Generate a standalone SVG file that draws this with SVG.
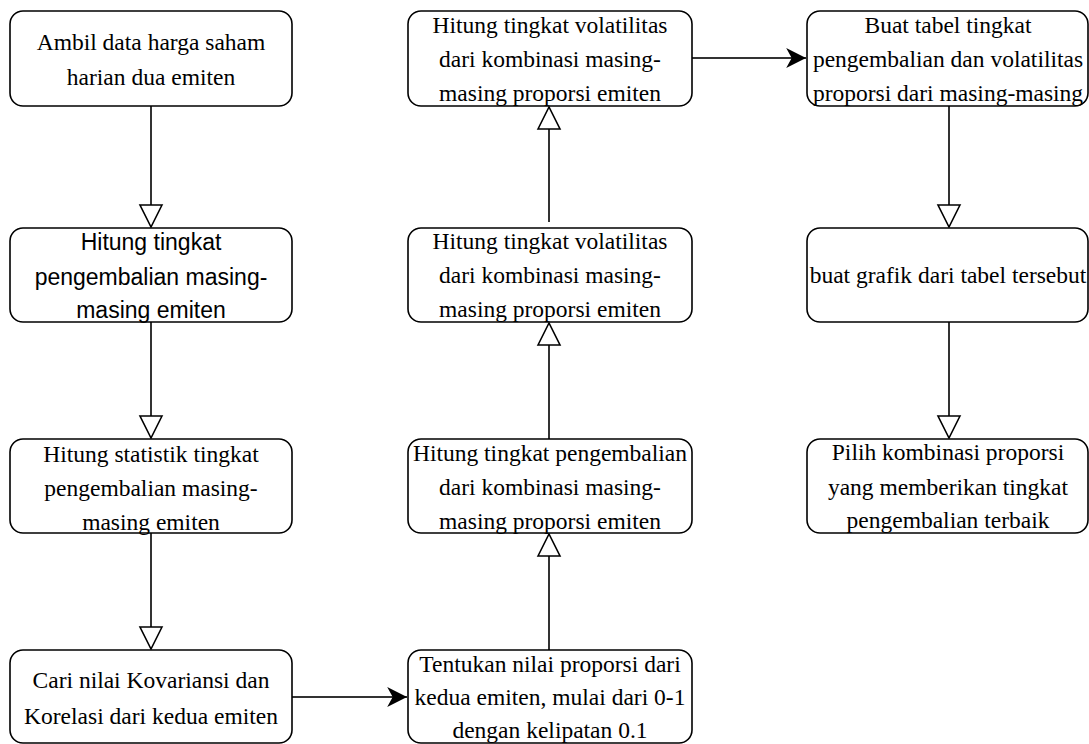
<svg xmlns="http://www.w3.org/2000/svg" width="1089" height="744" viewBox="0 0 1089 744">
  <style>
    .box { fill: #ffffff; stroke: #000000; stroke-width: 1.6; }
    .t { font-family: "Liberation Serif", "Times New Roman", serif; font-size: 23.5px; fill: #000000; text-anchor: middle; }
    .s { font-family: "Liberation Sans", Arial, sans-serif; font-size: 23px; fill: #000000; text-anchor: middle; }
    .c { fill: none; stroke: #333333; stroke-width: 2; }
  </style>
  <defs>
    <marker id="hollow" markerUnits="userSpaceOnUse" markerWidth="26" markerHeight="26" viewBox="-2 -2 26 26" refX="22" refY="11" orient="auto">
      <path d="M0,0 L22,11 L0,22 Z" fill="#ffffff" stroke="#000000" stroke-width="1.6"/>
    </marker>
    <marker id="block" markerUnits="userSpaceOnUse" markerWidth="22" markerHeight="22" viewBox="0 0 20 20" refX="18" refY="9" orient="auto">
      <path d="M0,0 L18,9 L0,18 L5,9 Z" fill="#000000"/>
    </marker>
  </defs>
  <rect width="1089" height="744" fill="#ffffff"/>

  <g id="connectors">
    <path class="c" d="M151,106 L151,227" marker-end="url(#hollow)"/>
    <path class="c" d="M151,322 L151,438" marker-end="url(#hollow)"/>
    <path class="c" d="M151,533 L151,649" marker-end="url(#hollow)"/>
    <path class="c" d="M292,697 L407,697" marker-end="url(#block)"/>
    <path class="c" d="M549,650 L549,534" marker-end="url(#hollow)"/>
    <path class="c" d="M549,439 L549,323" marker-end="url(#hollow)"/>
    <path class="c" d="M549,222 L549,107" marker-end="url(#hollow)"/>
    <path class="c" d="M692,58 L806,58" marker-end="url(#block)"/>
    <path class="c" d="M949,106 L949,227" marker-end="url(#hollow)"/>
    <path class="c" d="M949,322 L949,438" marker-end="url(#hollow)"/>
  </g>

  <g id="n1">
    <rect class="box" x="10" y="11" width="282" height="95" rx="13"/>
    <text class="t" x="151" y="50">Ambil data harga saham</text>
    <text class="t" x="151" y="85">harian dua emiten</text>
  </g>
  <g id="n2">
    <rect class="box" x="10" y="228" width="282" height="94" rx="13"/>
    <text class="s" x="151" y="250">Hitung tingkat</text>
    <text class="s" x="151" y="285">pengembalian masing-</text>
    <text class="s" x="151" y="318">masing emiten</text>
  </g>
  <g id="n3">
    <rect class="box" x="10" y="439" width="282" height="94" rx="13"/>
    <text class="t" x="151" y="462">Hitung statistik tingkat</text>
    <text class="t" x="151" y="496">pengembalian masing-</text>
    <text class="t" x="151" y="530">masing emiten</text>
  </g>
  <g id="n4">
    <rect class="box" x="10" y="650" width="282" height="93" rx="13"/>
    <text class="t" x="151" y="688">Cari nilai Kovariansi dan</text>
    <text class="t" x="151" y="724">Korelasi dari kedua emiten</text>
  </g>

  <g id="n5">
    <rect class="box" x="408" y="650" width="284" height="93" rx="13"/>
    <text class="t" x="550" y="672">Tentukan nilai proporsi dari</text>
    <text class="t" x="550" y="705">kedua emiten, mulai dari 0-1</text>
    <text class="t" x="550" y="738">dengan kelipatan 0.1</text>
  </g>
  <g id="n6">
    <rect class="box" x="408" y="439" width="284" height="94" rx="13"/>
    <text class="t" x="550" y="461">Hitung tingkat pengembalian</text>
    <text class="t" x="550" y="495">dari kombinasi masing-</text>
    <text class="t" x="550" y="529">masing proporsi emiten</text>
  </g>
  <g id="n7">
    <rect class="box" x="408" y="228" width="284" height="94" rx="13"/>
    <text class="t" x="550" y="249">Hitung tingkat volatilitas</text>
    <text class="t" x="550" y="283">dari kombinasi masing-</text>
    <text class="t" x="550" y="317">masing proporsi emiten</text>
  </g>
  <g id="n8">
    <rect class="box" x="408" y="11" width="284" height="95" rx="13"/>
    <text class="t" x="550" y="33">Hitung tingkat volatilitas</text>
    <text class="t" x="550" y="67">dari kombinasi masing-</text>
    <text class="t" x="550" y="101">masing proporsi emiten</text>
  </g>

  <g id="n9">
    <rect class="box" x="807" y="11" width="281" height="95" rx="13"/>
    <text class="t" x="948" y="33">Buat tabel tingkat</text>
    <text class="t" x="948" y="67">pengembalian dan volatilitas</text>
    <text class="t" x="948" y="101">proporsi dari masing-masing</text>
  </g>
  <g id="n10">
    <rect class="box" x="807" y="228" width="281" height="94" rx="13"/>
    <text class="t" x="948" y="283">buat grafik dari tabel tersebut</text>
  </g>
  <g id="n11">
    <rect class="box" x="807" y="439" width="281" height="94" rx="13"/>
    <text class="t" x="948" y="460">Pilih kombinasi proporsi</text>
    <text class="t" x="948" y="495">yang memberikan tingkat</text>
    <text class="t" x="948" y="528">pengembalian terbaik</text>
  </g>
</svg>
